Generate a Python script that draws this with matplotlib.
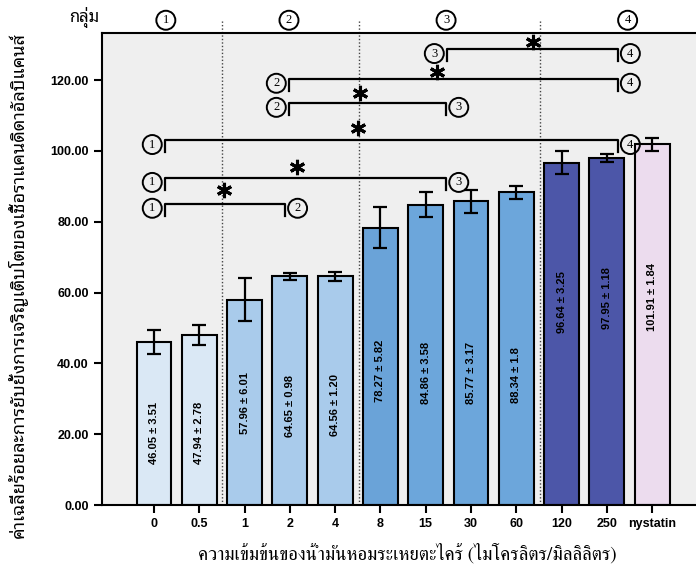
import matplotlib
matplotlib.use("Agg")
import matplotlib.pyplot as plt

# ---- data ----
concentrations = ["0", "0.5", "1", "2", "4", "8", "15", "30", "60", "120", "250", "nystatin"]
inhibition_mean = [46.05, 47.94, 57.96, 64.65, 64.56, 78.27, 84.86, 85.77, 88.34, 96.64, 97.95, 101.91]
inhibition_sd = [3.51, 2.78, 6.01, 0.98, 1.20, 5.82, 3.58, 3.17, 1.8, 3.25, 1.18, 1.84]
sd_text = ["3.51", "2.78", "6.01", "0.98", "1.20", "5.82", "3.58", "3.17", "1.8", "3.25", "1.18", "1.84"]
group_names = ["1", "2", "3", "4"]
# pairwise comparisons between groups (all significant)
comparisons = [(1, 2), (1, 3), (1, 4), (2, 3), (2, 4), (3, 4)]
y_ticks = [0, 20, 40, 60, 80, 100, 120]

# ---- fonts ----
thai_sans = ["Noto Sans Thai Looped", "Loma", "DejaVu Sans"]
thai_serif = ["FreeSerif", "Noto Serif Thai", "DejaVu Serif"]

# ---- layout / style ----
bar_colors = ["#dae8f5", "#dae8f5", "#a9cbeb", "#a9cbeb", "#a9cbeb",
              "#6aa3d8", "#6ca6db", "#6ca6db", "#6ca6db",
              "#4c56a8", "#4c56a8", "#ecdcee"]
label_y = [20.3, 20.3, 28.8, 28.0, 28.2, 37.8, 37.2, 37.2, 36.7, 57.3, 58.4, 58.7]
group_left = {1: 0.24, 2: 2.98, 3: 6.47}
group_right = {2: 2.89, 3: 6.45, 4: 10.24}
bracket_y = {(3, 4): 128.7, (2, 4): 120.3, (2, 3): 113.5, (1, 4): 103.0, (1, 3): 92.3, (1, 2): 85.0}
star_pos = {(1, 2): (1.55, 88.9), (1, 3): (3.16, 95.4), (1, 4): (4.5, 106.4),
            (2, 3): (4.55, 116.3), (2, 4): (6.25, 122.4), (3, 4): (8.37, 130.7)}
group_label_x = [0.26, 2.98, 6.45, 10.46]
dividers = [1.5, 4.52, 8.52]

fig = plt.figure(figsize=(6.96, 5.75), dpi=100)
ax = fig.add_axes([102 / 696, 70 / 575, 1 - 102 / 696, 472 / 575])
ax.set_facecolor("#efefef")

x = list(range(len(concentrations)))
ax.bar(x, inhibition_mean, width=0.77, color=bar_colors, edgecolor="black", linewidth=1.5, zorder=2)
ax.errorbar(x, inhibition_mean, yerr=inhibition_sd, fmt="none", ecolor="black",
            elinewidth=1.6, capsize=5, capthick=1.6, zorder=3)

for xi, m, s, ly in zip(x, inhibition_mean, sd_text, label_y):
    ax.text(xi, ly, f"{m:.2f} \u00b1 {s}", rotation=90, ha="center", va="center",
            fontsize=8, fontweight="bold", family=["Liberation Sans Narrow", "Liberation Sans"], zorder=4)

ax.set_xlim(-1.15, 11.97)
ax.set_ylim(0, 133.3)
ax.set_xticks(x)
ax.set_xticklabels(concentrations, family="Liberation Sans", fontsize=9, fontweight="bold")
ax.set_yticks(y_ticks)
ax.set_yticklabels([f"{v:.2f}" for v in y_ticks], family="Liberation Sans", fontsize=9, fontweight="bold")
ax.tick_params(direction="out", length=6, width=1.5, colors="black")
for side in ["left", "bottom", "top"]:
    ax.spines[side].set_linewidth(1.5)
ax.spines["right"].set_visible(False)

# group dividers
for d in dividers:
    ax.plot([d, d], [0, 136.9], ls=(0, (1, 1.5)), color="#444444", lw=1, clip_on=False, zorder=1)

circle_kw = dict(ha="center", va="center", fontsize=9, family="Liberation Serif",
                 bbox=dict(boxstyle="circle,pad=0.28", fc="none", ec="black", lw=1.4), zorder=5)

# group headers
ax.text(-1.2, 137.8, "กลุ่ม", ha="right", va="center", fontsize=12, family=thai_sans, clip_on=False)
for gx, gn in zip(group_label_x, group_names):
    ax.text(gx, 136.9, gn, clip_on=False, **circle_kw)

# significance brackets
tick = 3.4
for a, b in comparisons:
    y = bracket_y[(a, b)]
    x0, x1 = group_left[a], group_right[b]
    ax.plot([x0, x0, x1, x1], [y - tick, y, y, y - tick], color="black", lw=1.6, zorder=5)
    ax.text(x0 - 0.28, y - 1.2, group_names[a - 1], **circle_kw)
    ax.text(x1 + 0.28, y - 1.2, group_names[b - 1], **circle_kw)
    sx, sy = star_pos[(a, b)]
    ax.plot([sx], [sy], marker=(6, 2, 0), ms=11, mew=2.2, color="black", zorder=6, clip_on=False)

fig.text(18 / 696, 1 - 285 / 575, "ค่าเฉลี่ยร้อยละการยับยั้งการเจริญเติบโตของเชื้อราแคนดิดาอัลบิแคนส์",
         rotation=90, ha="center", va="center", fontsize=13, family=thai_sans)
fig.text(407 / 696, 1 - 553 / 575, "ความเข้มข้นของน้ำมันหอมระเหยตะไคร้ (ไมโครลิตร/มิลลิลิตร)",
         ha="center", va="center", fontsize=13.6, family=thai_serif)

fig.savefig("out.png", dpi=100)
